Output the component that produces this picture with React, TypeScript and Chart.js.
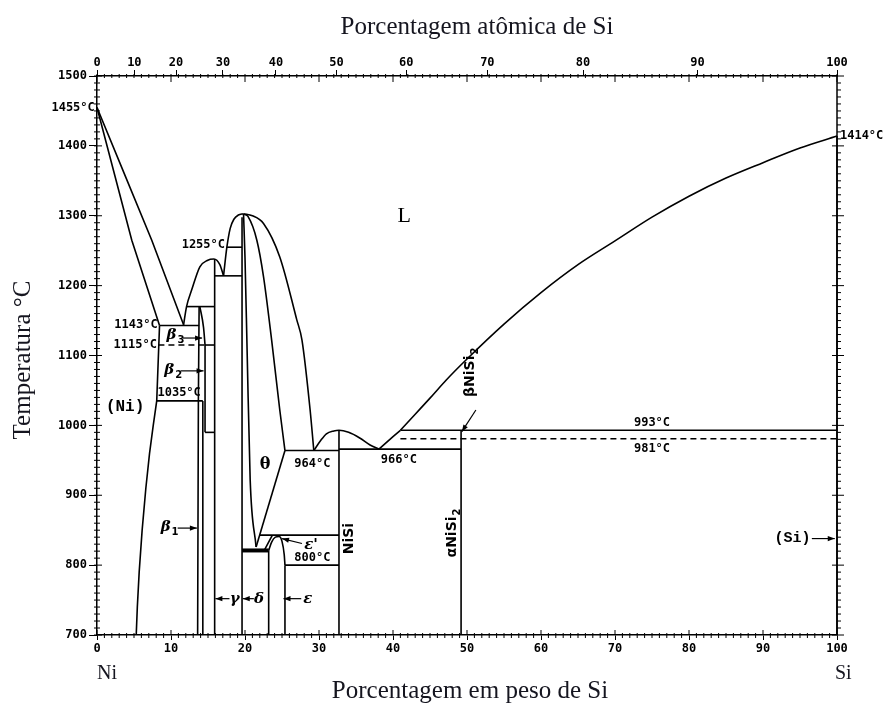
import React, { useEffect, useRef } from 'react';
import { Chart, registerables } from 'chart.js';

Chart.register(...registerables);

type Pt = [number, number];

// ---------- axes ----------
const tempTicks = [700, 800, 900, 1000, 1100, 1200, 1300, 1400, 1500];
const weightTicks = [0, 10, 20, 30, 40, 50, 60, 70, 80, 90, 100];
const atomicTicks = [0, 10, 20, 30, 40, 50, 60, 70, 80, 90, 100];
const MASS_NI = 58.6934;
const MASS_SI = 28.0855;
const atToWt = (a: number) => (100 * a * MASS_SI) / (a * MASS_SI + (100 - a) * MASS_NI);

// ---------- phase boundaries (wt% Si, °C) ----------
const liquidusNi: Pt[] = [[0, 1455], [3.7, 1360], [7.4, 1265], [11.7, 1144]];
const solidusNi: Pt[] = [[0, 1455], [4.7, 1265], [8.45, 1143]];
const solvusNi: Pt[] = [[8.45, 1143], [8.07, 1035], [7.6, 1000], [7.1, 960], [6.6, 910], [6.1, 850], [5.7, 790], [5.45, 740], [5.3, 700]];
const gammaLiquidus: Pt[] = [[11.7, 1144], [12.1, 1170], [12.8, 1194], [13.9, 1227], [14.9, 1236], [15.8, 1238], [16.6, 1230], [17.1, 1214]];
const deltaLiquidusLeft: Pt[] = [[17.1, 1214], [17.55, 1255], [18.0, 1282], [18.5, 1295], [19.1, 1301], [19.8, 1303]];
const deltaLiquidusRight: Pt[] = [[19.8, 1303], [21.0, 1300], [22.5, 1289], [24.7, 1241], [27.0, 1151], [27.7, 1122], [28.8, 1022], [29.3, 964]];
const thetaSolidus: Pt[] = [[19.9, 1302], [20.4, 1299], [21.6, 1265], [22.5, 1213], [23.6, 1122], [24.7, 1022], [25.4, 964]];
const thetaLeft: Pt[] = [[19.8, 1303], [20.0, 1240], [20.3, 1100], [20.7, 922], [21.5, 826]];
const thetaLower: Pt[] = [[25.4, 964], [21.5, 826]];
const deltaLine: Pt[] = [[19.6, 1298], [19.6, 700]];
const gammaLine: Pt[] = [[15.9, 1238], [15.9, 700]];
const betaLeft: Pt[] = [[13.8, 1170], [13.7, 1035], [13.6, 700]];
const betaRightCurve: Pt[] = [[13.9, 1170], [14.4, 1140], [14.6, 1115]];
const betaRightLine: Pt[] = [[14.6, 1115], [14.6, 990]];
const betaMid: Pt[] = [[14.3, 1035], [14.3, 700]];
const nisiDome: Pt[] = [[29.3, 964], [30.2, 978], [31.0, 988], [32.0, 992], [32.7, 993], [34.0, 990], [35.5, 982], [36.9, 972], [38.1, 966]];
const liquidusPeritectic: Pt[] = [[38.1, 966], [40.0, 984], [41.0, 993]];
const liquidusSi: Pt[] = [[41.0, 993], [43, 1016], [45, 1039], [47.2, 1065], [50, 1095], [55, 1145], [60, 1190], [65, 1230], [70, 1264], [75, 1298], [80, 1328], [85, 1354], [90, 1376], [95, 1397], [100, 1414]];
const nisiLine: Pt[] = [[32.7, 993], [32.7, 700]];
const nisi2Line: Pt[] = [[49.2, 993], [49.2, 700]];
const deltaRight: Pt[] = [[23.2, 821], [23.2, 700]];
const epsPrimeDome: Pt[] = [[23.2, 821], [23.6, 833], [24.1, 840], [24.6, 841], [25.0, 834], [25.3, 815], [25.4, 800]];
const epsPrimeUpper: Pt[] = [[22.6, 821], [23.7, 843]];
const epsLine: Pt[] = [[25.4, 800], [25.4, 700]];
const siLine: Pt[] = [[100, 1414], [100, 700]];

// ---------- isotherms ----------
const iso1255: Pt[] = [[17.55, 1255], [19.6, 1255]];
const iso1214: Pt[] = [[15.9, 1214], [19.6, 1214]];
const iso1170: Pt[] = [[12.1, 1170], [15.9, 1170]];
const iso1143: Pt[] = [[8.45, 1143], [13.8, 1143]];
const iso1115: Pt[] = [[8.3, 1115], [14.6, 1115]];
const iso1115g: Pt[] = [[14.6, 1115], [15.9, 1115]];
const iso1035: Pt[] = [[8.07, 1035], [14.3, 1035]];
const iso990: Pt[] = [[14.6, 990], [15.9, 990]];
const iso993: Pt[] = [[41.0, 993], [100, 993]];
const iso981: Pt[] = [[41.0, 981], [100, 981]];
const iso964: Pt[] = [[25.4, 964], [32.7, 964]];
const iso966: Pt[] = [[32.7, 966], [49.2, 966]];
const iso843: Pt[] = [[22.0, 843], [32.7, 843]];
const iso821: Pt[] = [[19.6, 821], [23.2, 821]];
const iso800: Pt[] = [[25.4, 800], [32.7, 800]];

type Kind = 'line' | 'curve' | 'dash' | 'thick';
const boundaries: { pts: Pt[]; kind: Kind }[] = [
  { pts: liquidusNi, kind: 'line' },
  { pts: solidusNi, kind: 'line' },
  { pts: solvusNi, kind: 'line' },
  { pts: gammaLiquidus, kind: 'curve' },
  { pts: deltaLiquidusLeft, kind: 'curve' },
  { pts: deltaLiquidusRight, kind: 'curve' },
  { pts: thetaSolidus, kind: 'curve' },
  { pts: thetaLeft, kind: 'curve' },
  { pts: thetaLower, kind: 'line' },
  { pts: deltaLine, kind: 'line' },
  { pts: gammaLine, kind: 'line' },
  { pts: betaLeft, kind: 'line' },
  { pts: betaRightCurve, kind: 'curve' },
  { pts: betaRightLine, kind: 'line' },
  { pts: betaMid, kind: 'line' },
  { pts: nisiDome, kind: 'curve' },
  { pts: liquidusPeritectic, kind: 'line' },
  { pts: liquidusSi, kind: 'curve' },
  { pts: nisiLine, kind: 'line' },
  { pts: nisi2Line, kind: 'line' },
  { pts: deltaRight, kind: 'line' },
  { pts: epsPrimeDome, kind: 'curve' },
  { pts: epsPrimeUpper, kind: 'line' },
  { pts: epsLine, kind: 'line' },
  { pts: siLine, kind: 'line' },
  { pts: iso1255, kind: 'line' },
  { pts: iso1214, kind: 'line' },
  { pts: iso1170, kind: 'line' },
  { pts: iso1143, kind: 'line' },
  { pts: iso1115, kind: 'dash' },
  { pts: iso1115g, kind: 'line' },
  { pts: iso1035, kind: 'line' },
  { pts: iso990, kind: 'line' },
  { pts: iso993, kind: 'line' },
  { pts: iso981, kind: 'dash' },
  { pts: iso964, kind: 'line' },
  { pts: iso966, kind: 'line' },
  { pts: iso843, kind: 'line' },
  { pts: iso821, kind: 'thick' },
  { pts: iso800, kind: 'line' },
];

// ---------- annotations ----------
const NUM = 'bold 12px "DejaVu Sans Mono"';
const GREEK = 'italic bold 15px "DejaVu Serif"';
const SUB = 'bold 10px "DejaVu Sans"';
const PHASE = 'bold 14px "DejaVu Sans"';

type Label = { t: string; sub?: string; x: number; y: number; align: 'left' | 'right' | 'center'; font: string; rot?: boolean };
const labels: Label[] = [
  { t: '1455°C', x: -0.3, y: 1455, align: 'right', font: NUM },
  { t: '1414°C', x: 100.4, y: 1414, align: 'left', font: NUM },
  { t: 'L', x: 41.5, y: 1300, align: 'center', font: '22px "Liberation Serif"' },
  { t: '1255°C', x: 17.3, y: 1258, align: 'right', font: NUM },
  { t: '1143°C', x: 8.2, y: 1144, align: 'right', font: NUM },
  { t: '1115°C', x: 8.1, y: 1115, align: 'right', font: NUM },
  { t: '1035°C', x: 11.1, y: 1047, align: 'center', font: NUM },
  { t: 'β', sub: '3', x: 9.4, y: 1129, align: 'left', font: GREEK },
  { t: 'β', sub: '2', x: 9.1, y: 1079, align: 'left', font: GREEK },
  { t: 'β', sub: '1', x: 8.6, y: 854, align: 'left', font: GREEK },
  { t: '(Ni)', x: 3.8, y: 1026, align: 'center', font: 'bold 16px "Liberation Mono"' },
  { t: 'θ', x: 22.7, y: 944, align: 'center', font: 'bold 16px "DejaVu Serif"' },
  { t: '964°C', x: 29.1, y: 945, align: 'center', font: NUM },
  { t: '966°C', x: 40.8, y: 951, align: 'center', font: NUM },
  { t: 'NiSi', x: 34.1, y: 838, align: 'center', font: PHASE, rot: true },
  { t: "ε'", x: 28.0, y: 829, align: 'left', font: GREEK },
  { t: '800°C', x: 29.1, y: 811, align: 'center', font: NUM },
  { t: 'γ', x: 18.6, y: 752, align: 'center', font: GREEK },
  { t: 'δ', x: 21.9, y: 752, align: 'center', font: GREEK },
  { t: 'ε', x: 28.5, y: 752, align: 'center', font: GREEK },
  { t: 'αNiSi', sub: '2', x: 48.0, y: 846, align: 'center', font: PHASE, rot: true },
  { t: 'βNiSi', sub: '2', x: 50.4, y: 1076, align: 'center', font: PHASE, rot: true },
  { t: '993°C', x: 75.0, y: 1003, align: 'center', font: NUM },
  { t: '981°C', x: 75.0, y: 966, align: 'center', font: NUM },
  { t: '(Si)', x: 94.0, y: 838, align: 'center', font: 'bold 15px "Liberation Mono"' },
];

const arrows: { from: Pt; to: Pt }[] = [
  { from: [11.6, 1125], to: [14.2, 1125] },
  { from: [11.3, 1078], to: [14.4, 1078] },
  { from: [10.9, 853], to: [13.5, 853] },
  { from: [27.7, 831], to: [25.0, 838] },
  { from: [17.9, 752], to: [16.0, 752] },
  { from: [21.2, 752], to: [19.7, 752] },
  { from: [27.6, 752], to: [25.2, 752] },
  { from: [51.2, 1022], to: [49.3, 991] },
  { from: [96.6, 838], to: [99.7, 838] },
];

const TITLE_FONT = '25px "Liberation Serif"';
const TITLE_COLOR = '#15151f';

const decorPlugin = {
  id: 'decor',
  afterDraw(chart: any) {
    const { ctx, chartArea: a } = chart;
    const xs = chart.scales.x;
    const ys = chart.scales.y;
    const X = (v: number) => xs.getPixelForValue(v);
    const Y = (v: number) => ys.getPixelForValue(v);
    const seg = (x1: number, y1: number, x2: number, y2: number) => {
      ctx.beginPath();
      ctx.moveTo(x1, y1);
      ctx.lineTo(x2, y2);
      ctx.stroke();
    };
    ctx.save();
    ctx.strokeStyle = '#000';
    ctx.fillStyle = '#000';
    // right frame
    ctx.lineWidth = 1.5;
    seg(a.right, a.top, a.right, a.bottom);
    // minor ticks
    ctx.lineWidth = 1;
    for (let v = 0; v <= 100; v++) {
      const px = X(v);
      const major = v % 10 === 0;
      seg(px, a.bottom - (major ? 5 : 2), px, a.bottom + (major ? 0 : 3));
      seg(px, a.top - 2, px, a.top + (major ? 6 : 2));
    }
    for (let t = 700; t <= 1500; t += 10) {
      const py = Y(t);
      const major = t % 100 === 0;
      seg(a.left - 3, py, a.left + (major ? 5 : 3), py);
      seg(a.right - (major ? 5 : 0), py, a.right + (major ? 7 : 4), py);
    }

    // arrows
    ctx.lineWidth = 1.2;
    for (const ar of arrows) {
      const x1 = X(ar.from[0]), y1 = Y(ar.from[1]);
      const x2 = X(ar.to[0]), y2 = Y(ar.to[1]);
      seg(x1, y1, x2, y2);
      const ang = Math.atan2(y2 - y1, x2 - x1);
      const L = 7, W = 2.6;
      ctx.beginPath();
      ctx.moveTo(x2, y2);
      ctx.lineTo(x2 - L * Math.cos(ang) + W * Math.sin(ang), y2 - L * Math.sin(ang) - W * Math.cos(ang));
      ctx.lineTo(x2 - L * Math.cos(ang) - W * Math.sin(ang), y2 - L * Math.sin(ang) + W * Math.cos(ang));
      ctx.closePath();
      ctx.fill();
    }

    // labels
    for (const l of labels) {
      ctx.save();
      ctx.translate(X(l.x), Y(l.y));
      if (l.rot) ctx.rotate(-Math.PI / 2);
      ctx.font = l.font;
      const w1 = ctx.measureText(l.t).width;
      let w2 = 0;
      if (l.sub) {
        ctx.font = SUB;
        w2 = ctx.measureText(l.sub).width + 1;
      }
      const total = w1 + w2;
      const x0 = l.align === 'right' ? -total : l.align === 'left' ? 0 : -total / 2;
      ctx.textAlign = 'left';
      ctx.textBaseline = 'middle';
      ctx.font = l.font;
      ctx.fillText(l.t, x0, 0);
      if (l.sub) {
        ctx.font = SUB;
        ctx.fillText(l.sub, x0 + w1 + 1, 5);
      }
      ctx.restore();
    }

    // titles
    ctx.fillStyle = TITLE_COLOR;
    ctx.font = TITLE_FONT;
    ctx.textAlign = 'center';
    ctx.textBaseline = 'middle';
    ctx.fillText('Porcentagem atômica de Si', 477, 27);
    ctx.fillText('Porcentagem em peso de Si', 470, 691);
    ctx.save();
    ctx.translate(23, 360);
    ctx.rotate(-Math.PI / 2);
    ctx.fillText('Temperatura °C', 0, 0);
    ctx.restore();
    ctx.font = '20px "Liberation Serif"';
    ctx.textAlign = 'left';
    ctx.fillText('Ni', X(0), a.bottom + 39);
    ctx.fillText('Si', X(100) - 2, a.bottom + 39);
    ctx.restore();
  },
};

const tickFont = { family: '"DejaVu Sans Mono"', size: 12, weight: 'bold' as const };
const plain = (v: any) => String(v);

export default function App() {
  const ref = useRef<HTMLCanvasElement>(null);
  useEffect(() => {
    document.body.style.margin = '0';
    const canvas = ref.current!;
    const datasets = boundaries.map((b) => ({
      data: b.pts.map(([x, y]) => ({ x, y })),
      showLine: true,
      borderColor: '#000',
      borderWidth: b.kind === 'thick' ? 4 : b.kind === 'dash' ? 1.5 : 1.6,
      borderDash: b.kind === 'dash' ? [6, 4] : [],
      cubicInterpolationMode: b.kind === 'curve' ? ('monotone' as const) : ('default' as const),
      tension: 0,
      pointRadius: 0,
      pointHoverRadius: 0,
      fill: false,
      clip: 6,
    }));
    const chart = new Chart(canvas, {
      type: 'scatter',
      data: { datasets },
      options: {
        responsive: false,
        animation: false,
        events: [],
        layout: { padding: { left: 0, right: 55, top: 0, bottom: 0 } },
        plugins: { legend: { display: false }, tooltip: { enabled: false }, title: { display: false } },
        scales: {
          x: {
            type: 'linear',
            position: 'bottom',
            min: 0,
            max: 100,
            afterBuildTicks: (s: any) => {
              s.ticks = weightTicks.map((v) => ({ value: v }));
            },
            ticks: { font: tickFont, color: '#000', padding: 2, maxRotation: 0, autoSkip: false, callback: plain },
            grid: { drawOnChartArea: false, drawTicks: true, tickLength: 5, color: '#000', lineWidth: 1 },
            border: { display: true, color: '#000', width: 1.5 },
            afterFit: (s: any) => {
              s.height = 71;
            },
          },
          xTop: {
            type: 'linear',
            position: 'top',
            min: 0,
            max: 100,
            afterBuildTicks: (s: any) => {
              s.ticks = atomicTicks.map((a) => ({ value: atToWt(a) }));
            },
            ticks: {
              font: tickFont,
              color: '#000',
              padding: 0,
              maxRotation: 0,
              autoSkip: false,
              callback: (_v: any, i: number) => String(atomicTicks[i]),
            },
            grid: { drawOnChartArea: false, drawTicks: true, tickLength: 6, color: '#000', lineWidth: 1 },
            border: { display: true, color: '#000', width: 1.5 },
            afterFit: (s: any) => {
              s.height = 76;
            },
          },
          y: {
            type: 'linear',
            position: 'left',
            min: 700,
            max: 1500,
            afterBuildTicks: (s: any) => {
              s.ticks = tempTicks.map((v) => ({ value: v }));
            },
            ticks: { font: tickFont, color: '#000', padding: 2, callback: plain },
            grid: { drawOnChartArea: false, drawTicks: true, tickLength: 8, color: '#000', lineWidth: 1 },
            border: { display: true, color: '#000', width: 1.5 },
            afterFit: (s: any) => {
              s.width = 97;
            },
          },
        },
      } as any,
      plugins: [decorPlugin],
    });
    return () => chart.destroy();
  }, []);
  return <canvas ref={ref} width={892} height={706} style={{ display: 'block' }} />;
}
